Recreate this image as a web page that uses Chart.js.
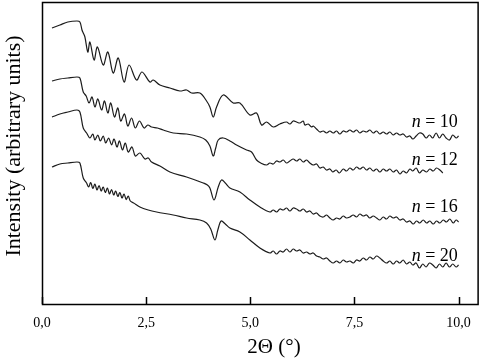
<!DOCTYPE html>
<html>
<head>
<meta charset="utf-8">
<script src="https://cdn.jsdelivr.net/npm/chart.js@4"></script>
<style>
    body { margin: 0; background: #fff; }
    #chartBox { width: 482px; height: 362px; }
</style>
</head>
<body>
<div id="chartBox"><canvas id="xrrChart" width="482" height="362"></canvas></div>
<script>
// values: 2Θ in degrees, intensity in arbitrary units (curves are offset)
const n10Theta = [0.24, 0.43, 0.62, 0.84, 0.91, 0.96, 0.99, 1.03, 1.10, 1.15, 1.25, 1.33, 1.47, 1.58, 1.71, 1.83, 1.97, 2.09, 2.27, 2.40, 2.59, 2.67, 2.83, 3.07, 3.31, 3.47, 3.59, 3.79, 3.95, 4.03, 4.11, 4.19, 4.35, 4.59, 4.75, 4.99, 5.15, 5.27, 5.39, 5.55, 5.71, 5.87, 5.95, 6.03, 6.11, 6.19, 6.27, 6.31, 6.39, 6.47, 6.51, 6.59, 6.67, 6.75, 6.83, 6.91, 6.99, 7.07, 7.15, 7.23, 7.31, 7.39, 7.47, 7.55, 7.63, 7.71, 7.79, 7.87, 7.95, 8.03, 8.11, 8.19, 8.27, 8.35, 8.43, 8.51, 8.59, 8.67, 8.75, 8.83, 8.90, 8.98, 9.06, 9.14, 9.22, 9.30, 9.38, 9.46, 9.54, 9.62, 9.70, 9.78, 9.86, 9.94, 10.0];
const n10Int = [276, 279, 282, 283, 282, 274, 271, 267, 252, 262, 244, 257, 239, 252, 231, 246, 222, 239, 224, 232, 222, 224, 219, 216, 213, 214, 211, 211, 203, 197, 187, 197, 209, 201, 201, 189, 191, 179, 182, 177, 180, 182, 180, 183, 182, 181, 183, 179, 180, 177, 178, 175, 172, 173, 171, 173, 171, 173, 170, 173, 172, 174, 172, 174, 171, 173, 172, 174, 171, 173, 170, 172, 170, 172, 169, 171, 169, 170, 167, 168, 165, 168, 171, 170, 166, 169, 166, 171, 166, 170, 166, 164, 169, 166, 168];

const n12Theta = [0.24, 0.43, 0.62, 0.84, 0.91, 0.99, 1.06, 1.13, 1.20, 1.27, 1.34, 1.43, 1.50, 1.58, 1.65, 1.74, 1.82, 1.89, 1.98, 2.06, 2.15, 2.24, 2.34, 2.45, 2.54, 2.63, 2.77, 2.91, 3.15, 3.47, 3.79, 3.93, 4.03, 4.11, 4.17, 4.23, 4.35, 4.51, 4.67, 4.91, 5.03, 5.15, 5.25, 5.39, 5.47, 5.55, 5.63, 5.71, 5.79, 5.87, 5.95, 6.03, 6.11, 6.19, 6.27, 6.35, 6.43, 6.51, 6.59, 6.67, 6.75, 6.83, 6.91, 6.98, 7.06, 7.14, 7.23, 7.31, 7.39, 7.47, 7.55, 7.63, 7.71, 7.79, 7.87, 7.95, 8.03, 8.11, 8.19, 8.27, 8.35, 8.43, 8.51, 8.59, 8.67, 8.75, 8.83, 8.90, 8.98, 9.06, 9.14, 9.23, 9.31, 9.39, 9.47, 9.55, 9.62];
const n12Int = [223, 225, 226, 227, 226, 212, 208, 201, 207, 197, 205, 194, 203, 191, 201, 187, 196, 183, 190, 178, 186, 176, 183, 176, 179, 177, 176, 174, 171, 170, 167, 164, 158, 148, 156, 164, 166, 163, 159, 154, 152, 144, 141, 139, 141, 140, 143, 142, 144, 141, 143, 145, 143, 145, 142, 144, 141, 139, 140, 136, 137, 134, 135, 132, 134, 131, 135, 133, 136, 134, 137, 135, 137, 134, 136, 133, 135, 132, 135, 133, 135, 132, 134, 130, 133, 131, 135, 133, 136, 131, 134, 132, 135, 133, 136, 134, 131];

const n16Theta = [0.24, 0.43, 0.62, 0.84, 0.91, 0.99, 1.07, 1.15, 1.22, 1.27, 1.34, 1.40, 1.47, 1.53, 1.60, 1.67, 1.73, 1.80, 1.86, 1.93, 2.00, 2.07, 2.16, 2.24, 2.35, 2.47, 2.55, 2.63, 2.83, 3.07, 3.47, 3.87, 3.97, 4.03, 4.13, 4.23, 4.31, 4.40, 4.51, 4.75, 4.99, 5.23, 5.47, 5.55, 5.63, 5.71, 5.79, 5.87, 5.95, 6.03, 6.11, 6.19, 6.27, 6.35, 6.43, 6.51, 6.59, 6.67, 6.75, 6.83, 6.91, 6.99, 7.07, 7.15, 7.23, 7.31, 7.39, 7.47, 7.55, 7.63, 7.71, 7.79, 7.87, 7.95, 8.03, 8.11, 8.19, 8.27, 8.35, 8.43, 8.51, 8.59, 8.67, 8.75, 8.83, 8.91, 8.99, 9.07, 9.15, 9.23, 9.31, 9.39, 9.47, 9.55, 9.63, 9.71, 9.79, 9.87, 9.94, 10.0];
const n16Int = [187, 190, 192, 194, 192, 176, 171, 166, 170, 164, 169, 163, 168, 161, 166, 159, 165, 157, 163, 154, 161, 152, 157, 148, 151, 145, 146, 142, 138, 132, 127, 121, 119, 116, 104, 117, 124, 121, 116, 112, 104, 97, 92, 94, 92, 95, 94, 96, 93, 96, 95, 93, 95, 92, 93, 90, 91, 88, 87, 89, 86, 84, 86, 85, 88, 86, 87, 89, 87, 90, 88, 89, 86, 88, 86, 84, 87, 85, 88, 86, 87, 84, 85, 82, 83, 80, 83, 81, 84, 81, 83, 80, 83, 81, 84, 82, 85, 81, 84, 82];

const n20Theta = [0.24, 0.43, 0.62, 0.84, 0.91, 0.99, 1.07, 1.12, 1.17, 1.22, 1.27, 1.32, 1.37, 1.42, 1.47, 1.52, 1.57, 1.62, 1.67, 1.72, 1.77, 1.82, 1.87, 1.92, 1.97, 2.02, 2.07, 2.12, 2.20, 2.35, 2.55, 2.75, 3.15, 3.47, 3.79, 3.95, 4.05, 4.15, 4.22, 4.30, 4.40, 4.51, 4.75, 4.99, 5.23, 5.47, 5.55, 5.63, 5.71, 5.79, 5.87, 5.95, 6.03, 6.11, 6.19, 6.27, 6.35, 6.43, 6.51, 6.59, 6.67, 6.75, 6.83, 6.91, 6.99, 7.07, 7.15, 7.23, 7.31, 7.39, 7.47, 7.55, 7.63, 7.71, 7.79, 7.87, 7.95, 8.03, 8.11, 8.19, 8.27, 8.35, 8.43, 8.51, 8.59, 8.67, 8.75, 8.83, 8.90, 8.98, 9.06, 9.14, 9.22, 9.30, 9.38, 9.46, 9.54, 9.62, 9.70, 9.78, 9.86, 9.94, 10.0];
const n20Int = [137, 140, 141, 142, 141, 126, 121, 117, 121.5, 115.5, 120, 114, 118.5, 113, 117, 111.5, 116, 110, 114.5, 109, 113, 107.5, 111.5, 106, 110, 104.5, 108, 103, 101, 97, 94, 92, 89, 86, 84, 81, 75, 64, 74, 83, 80, 76, 72, 64, 56, 51, 53, 50, 53, 52, 55, 52, 55, 53, 54, 51, 52, 50, 51, 48, 47, 45, 46, 43, 41, 43, 41, 44, 42, 43, 41, 44, 43, 46, 44, 47, 45, 48, 46, 43, 41, 43, 40, 43, 41, 44, 40, 42, 39, 41, 36, 40, 37, 41, 39, 36, 40, 37, 41, 37, 40, 37, 39];

const seriesNames = ["10", "12", "16", "20"];
const xTicks = [0, 2.5, 5, 7.5, 10];

const serif = "'Liberation Serif', 'Times New Roman', serif";

function toPoints(thetas, values) {
    return thetas.map((t, i) => ({ x: t, y: values[i] }));
}

function makeDataset(label, thetas, values) {
    return {
        label: label,
        data: toPoints(thetas, values),
        borderColor: '#1c1c1c',
        borderWidth: 1.2,
        pointRadius: 0,
        fill: false,
        tension: 0.35
    };
}

// frame, inward ticks, titles and the n = .. labels
const framePlugin = {
    id: 'frame',
    afterDraw(chart) {
        const ctx = chart.ctx;
        const area = chart.chartArea;
        const xScale = chart.scales.x;
        const yScale = chart.scales.y;
        ctx.save();
        ctx.strokeStyle = '#000';
        ctx.lineWidth = 1.5;
        ctx.strokeRect(area.left + 0.5, area.top + 0.5, area.right - area.left - 1, area.bottom - area.top);
        xTicks.forEach(t => {
            const px = Math.round(xScale.getPixelForValue(t)) + 0.5;
            ctx.beginPath();
            ctx.moveTo(px, area.bottom);
            ctx.lineTo(px, area.bottom - 7);
            ctx.stroke();
        });
        ctx.fillStyle = '#000';
        ctx.textBaseline = 'middle';
        ctx.textAlign = 'center';
        ctx.font = `21px ${serif}`;
        ctx.fillText('2Θ (°)', 274, 347);
        ctx.translate(14, 146);
        ctx.rotate(-Math.PI / 2);
        ctx.font = `22px ${serif}`;
        ctx.fillText('Intensity (arbitrary units)', 0, 0);
        ctx.restore();

        ctx.save();
        ctx.fillStyle = '#000';
        ctx.textBaseline = 'middle';
        const labelSpots = [182, 144, 97, 48];
        seriesNames.forEach((name, i) => {
            const right = xScale.getPixelForValue(9.98);
            const y = yScale.getPixelForValue(labelSpots[i]);
            ctx.font = `18px ${serif}`;
            const rest = ` = ${name}`;
            const restW = ctx.measureText(rest).width;
            ctx.textAlign = 'right';
            ctx.fillText(rest, right, y);
            ctx.font = `italic 18px ${serif}`;
            ctx.fillText('n', right - restW, y);
        });
        ctx.restore();
    }
};

const ctx = document.getElementById('xrrChart').getContext('2d');
new Chart(ctx, {
    type: 'line',
    data: {
        datasets: [
            makeDataset('n = 10', n10Theta, n10Int),
            makeDataset('n = 12', n12Theta, n12Int),
            makeDataset('n = 16', n16Theta, n16Int),
            makeDataset('n = 20', n20Theta, n20Int)
        ]
    },
    options: {
        responsive: false,
        animation: false,
        layout: { padding: { top: 2, right: 3, left: 0, bottom: 0 } },
        scales: {
            x: {
                type: 'linear',
                min: 0,
                max: 10.48,
                afterFit: s => { s.height = 58; },
                afterBuildTicks: s => { s.ticks = xTicks.map(v => ({ value: v })); },
                grid: { display: false, drawTicks: false },
                border: { display: false },
                ticks: {
                    padding: 11,
                    color: '#000',
                    font: { size: 14, family: serif },
                    callback: v => v.toFixed(1).replace('.', ',')
                }
            },
            y: {
                min: 0,
                max: 302,
                afterFit: s => { s.width = 42; },
                grid: { display: false, drawTicks: false },
                border: { display: false },
                ticks: { display: false }
            }
        },
        plugins: {
            legend: { display: false },
            tooltip: { enabled: false }
        }
    },
    plugins: [framePlugin]
});
</script>
</body>
</html>
